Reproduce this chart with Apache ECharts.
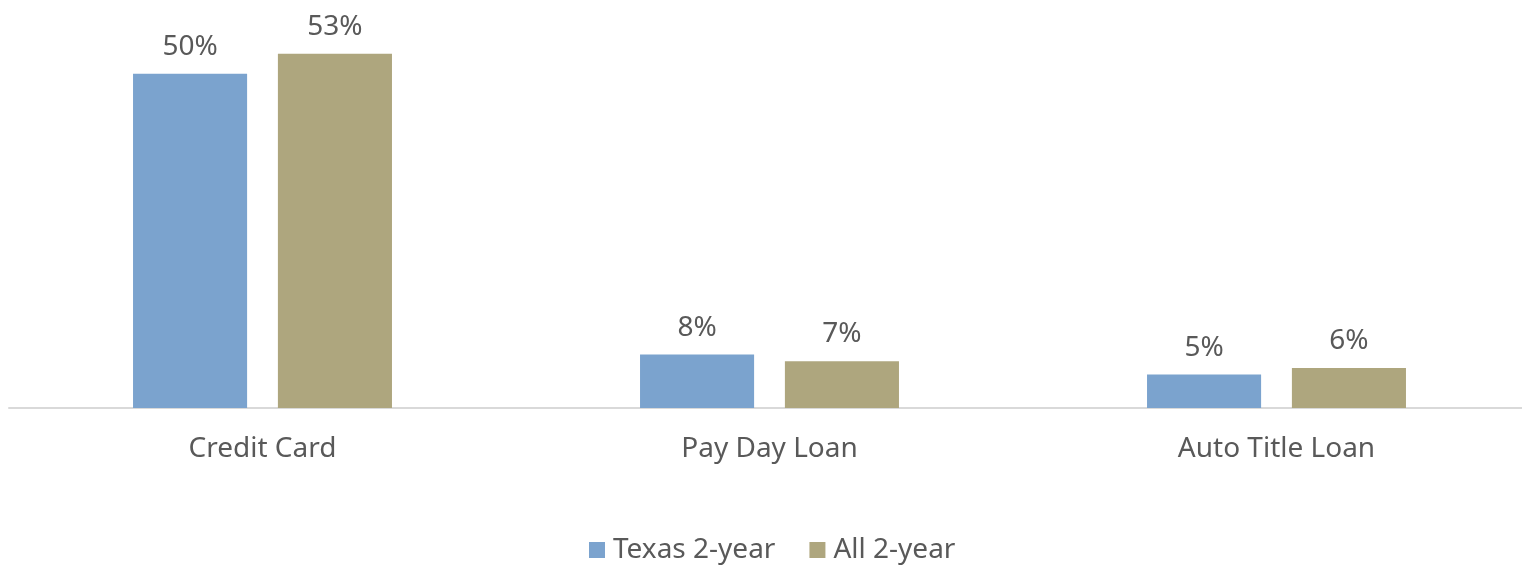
<!DOCTYPE html>
<html>
<head>
<meta charset="utf-8">
<script src="https://cdn.jsdelivr.net/npm/echarts@6/dist/echarts.min.js"></script>
<style>
  html, body { margin: 0; padding: 0; background: #ffffff; }
  #chart { width: 1522px; height: 569px; }
</style>
</head>
<body>
<div id="chart"></div>
<script>
// Loan types and share of students using each (percent)
const categories = ['Credit Card', 'Pay Day Loan', 'Auto Title Loan'];
const seriesNames = ['Texas 2-year', 'All 2-year'];
const texasValues = [50, 8, 5];
const allValues = [53, 7, 6];
const colors = ['#7BA3CE', '#AEA67E'];

const FONT = '"Noto Sans", "Open Sans", sans-serif';
const TEXT_COLOR = '#595959';

const chart = echarts.init(document.getElementById('chart'), null, { renderer: 'canvas' });

function barSeries(name, data, color) {
  return {
    name: name,
    type: 'bar',
    data: data,
    barWidth: '22.5%',
    barGap: '27%',
    itemStyle: { color: color },
    label: {
      show: true,
      position: 'top',
      distance: 13,
      formatter: '{c}%',
      color: TEXT_COLOR,
      fontFamily: FONT,
      fontSize: 28
    }
  };
}

chart.setOption({
  animation: false,
  backgroundColor: '#ffffff',
  // plot area runs slightly past the right edge of the canvas
  grid: {
    left: 9, top: 7, width: 1521, bottom: 161,
    containLabel: false,
    outerBoundsMode: 'none'
  },
  xAxis: {
    type: 'category',
    data: categories,
    axisLine: { show: true, lineStyle: { color: '#D9D9D9', width: 2 } },
    axisTick: { show: false },
    axisLabel: {
      margin: 27,
      color: TEXT_COLOR,
      fontFamily: FONT,
      fontSize: 28
    }
  },
  yAxis: {
    type: 'value',
    min: 0,
    max: 60,
    show: false,
    splitLine: { show: false }
  },
  legend: {
    data: seriesNames,
    top: 536,
    left: 589,
    padding: 0,
    itemWidth: 16,
    itemHeight: 16,
    itemGap: 34,
    icon: 'rect',
    textStyle: {
      color: TEXT_COLOR,
      fontFamily: FONT,
      fontSize: 28,
      padding: [0, 0, 0, 3]
    }
  },
  series: [
    barSeries(seriesNames[0], texasValues, colors[0]),
    barSeries(seriesNames[1], allValues, colors[1])
  ]
});
</script>
</body>
</html>
